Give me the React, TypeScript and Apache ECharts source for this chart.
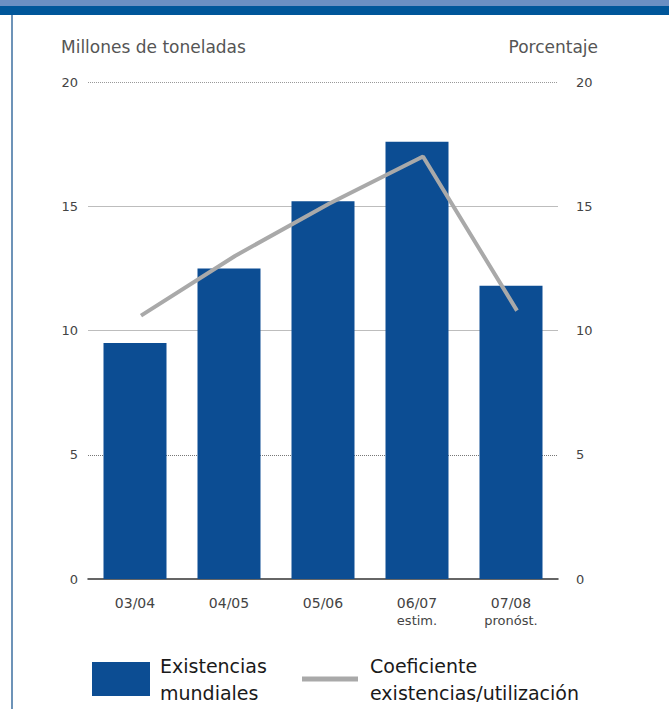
import React, { useEffect, useRef } from "react";
import * as echarts from "echarts";

const categories = ["03/04", "04/05", "05/06", "06/07", "07/08"];
const categorySubLabels = ["", "", "", "estim.", "pronóst."];
const stocks = [9.5, 12.5, 15.2, 17.6, 11.8];
const ratio = [10.6, 13.0, 15.1, 17.0, 10.8];
const leftTicks = [0, 5, 10, 15, 20];
const dottedGridValues = [5, 20];

const BAR_NAME = "Existencias mundiales";
const LINE_NAME = "Coeficiente existencias/utilización";

export default function App() {
  const ref = useRef<HTMLDivElement>(null);
  useEffect(() => {
    if (!ref.current) return;
    const chart = echarts.init(ref.current, undefined, { renderer: "svg" });
    const font = "DejaVu Sans, Verdana, sans-serif";
    const gridLines = leftTicks
      .filter((v) => v > 0)
      .map((v) => ({
        yAxis: v,
        lineStyle: dottedGridValues.includes(v)
          ? { color: v === 5 ? "#777" : "#999", type: "dotted", width: 1 }
          : { color: "#bdbdbd", type: "solid", width: 1.2 },
      }));
    chart.setOption({
      animation: false,
      backgroundColor: "#ffffff",
      textStyle: { fontFamily: font },
      graphic: [
        { type: "rect", shape: { x: 0, y: 0, width: 669, height: 6 }, style: { fill: "#6b8fc3" } },
        { type: "rect", shape: { x: 0, y: 6, width: 669, height: 9 }, style: { fill: "#00569a" } },
        { type: "rect", shape: { x: 11, y: 15, width: 2, height: 694 }, style: { fill: "#6d93b8" } },
        {
          type: "text",
          left: 61,
          top: 38,
          style: { text: "Millones de toneladas", fontSize: 17, fill: "#555", fontFamily: font },
        },
        {
          type: "text",
          right: 71,
          top: 38,
          style: { text: "Porcentaje", fontSize: 17, fill: "#555", fontFamily: font },
        },
      ],
      grid: [
        { left: 88, right: 111, top: 82, bottom: 130 },
        { left: 94, right: 105, top: 82, bottom: 130 },
      ],
      legend: [
        {
          data: [BAR_NAME],
          left: 92,
          top: 652,
          padding: 0,
          itemWidth: 58,
          itemHeight: 34,
          icon: "rect",
          formatter: () => "Existencias\nmundiales",
          textStyle: { fontSize: 19, color: "#1a1a1a", lineHeight: 27, fontFamily: font, padding: [0, 0, 0, 5] },
        },
        {
          data: [LINE_NAME],
          left: 302,
          top: 652,
          padding: 0,
          itemWidth: 56,
          itemHeight: 5,
          icon: "rect",
          formatter: () => "Coeficiente\nexistencias/utilización",
          textStyle: { fontSize: 19, color: "#1a1a1a", lineHeight: 27, fontFamily: font, padding: [0, 0, 0, 7] },
        },
      ],
      xAxis: [
        {
          type: "category",
          gridIndex: 0,
          data: categories.map((c, i) => (categorySubLabels[i] ? c + "\n" + categorySubLabels[i] : c)),
          axisLine: { lineStyle: { color: "#333", width: 1.5 } },
          axisTick: { show: false },
          axisLabel: {
            interval: 0,
            color: "#444",
            fontSize: 14,
            margin: 15,
            lineHeight: 18,
            formatter: (v: string) => {
              const parts = v.split("\n");
              return parts.length > 1 ? parts[0] + "\n{s|" + parts[1] + "}" : parts[0];
            },
            rich: { s: { fontSize: 13, color: "#444", lineHeight: 16 } },
          },
        },
        {
          type: "category",
          gridIndex: 1,
          data: categories,
          show: false,
        },
      ],
      yAxis: [
        {
          type: "value",
          gridIndex: 0,
          min: leftTicks[0],
          max: leftTicks[leftTicks.length - 1],
          interval: 5,
          axisLine: { show: false },
          axisTick: { show: false },
          axisLabel: { color: "#444", fontSize: 13, margin: 10 },
          splitLine: { show: false },
        },
        {
          type: "value",
          gridIndex: 0,
          min: 0,
          max: 20,
          interval: 5,
          position: "right",
          axisLine: { show: false },
          axisTick: { show: false },
          axisLabel: { color: "#444", fontSize: 13, margin: 18 },
          splitLine: { show: false },
        },
        {
          type: "value",
          gridIndex: 1,
          min: 0,
          max: 20,
          show: false,
          splitLine: { show: false },
        },
      ],
      series: [
        {
          name: BAR_NAME,
          type: "bar",
          data: stocks,
          barWidth: 63,
          itemStyle: { color: "#0c4d93" },
          xAxisIndex: 0,
          yAxisIndex: 0,
          z: 2,
          markLine: {
            silent: true,
            symbol: "none",
            label: { show: false },
            data: gridLines,
            z: 1,
          },
        },
        {
          name: LINE_NAME,
          type: "line",
          data: ratio,
          xAxisIndex: 1,
          yAxisIndex: 2,
          symbol: "none",
          lineStyle: { color: "#a9a9a9", width: 4 },
          itemStyle: { color: "#a9a9a9" },
          z: 3,
        },
      ],
    });
    return () => chart.dispose();
  }, []);
  return (
    <div
      ref={ref}
      style={{ position: "absolute", left: 0, top: 0, width: 669, height: 709 }}
    />
  );
}
